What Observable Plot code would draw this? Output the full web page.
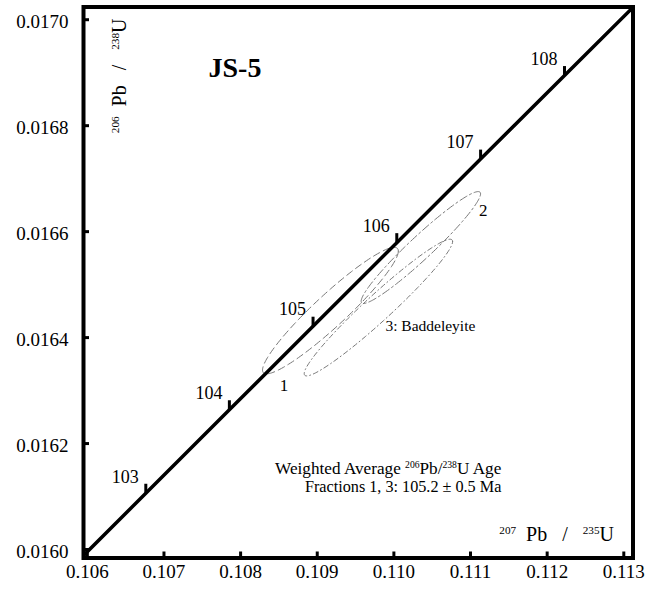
<!DOCTYPE html>
<html>
<head>
<meta charset="utf-8">
<script src="https://cdn.jsdelivr.net/npm/d3@7"></script>
<script src="https://cdn.jsdelivr.net/npm/@observablehq/plot@0.6"></script>
<style>
  html, body { margin: 0; padding: 0; background: #fff; }
</style>
</head>
<body>
<div id="chart"></div>
<script>
// ---- Axis ticks and extents (207Pb/235U on x, 206Pb/238U on y) ----
const xTicks = [0.106, 0.107, 0.108, 0.109, 0.110, 0.111, 0.112, 0.113];
const yTicks = [0.0160, 0.0162, 0.0164, 0.0166, 0.0168, 0.0170];
const xDomain = [0.10595, 0.11312];
const yDomain = [0.015984, 0.017024];

// ---- Concordia curve, points at whole-Ma ages ----
const concordiaAge = [102, 103, 104, 105, 106, 107, 108, 109];
const concordiaX = [0.1056735, 0.1067630, 0.1078535, 0.1089452, 0.1100378, 0.1111315, 0.1122264, 0.1133223];
const concordiaY = [0.0159486, 0.0161062, 0.0162638, 0.0164215, 0.0165792, 0.0167369, 0.0168946, 0.0170524];
const labeledAges = [103, 104, 105, 106, 107, 108];

// ---- Error ellipses of the fractions (x, 2s, y, 2s, rho) ----
const fractionId = ["1", "2", "3"];
const fractionX = [0.109172, 0.110352, 0.109798];
const fractionSX = [0.000886, 0.000779, 0.000968];
const fractionY = [0.016451, 0.016570, 0.0164567];
const fractionSY = [0.0001194, 0.0001056, 0.0001290];
const fractionRho = [0.940, 0.960, 0.966];

// ---- Text annotations (data coordinates) ----
const annText = ["JS-5", "1", "2", "3: Baddeleyite",
  "Weighted Average ^206Pb/^238U Age", "Fractions 1, 3: 105.2 \u00b1 0.5 Ma"];
const annX = [0.107926, 0.108565, 0.111167, 0.109889, 0.111402, 0.111402];
const annY = [0.016909, 0.016309, 0.016640, 0.016422, 0.0161535, 0.0161177];

const xTitle = "^207\u00a0\u00a0Pb\u00a0\u00a0\u00a0/\u00a0\u00a0\u00a0^235U";
const yTitle = "^206\u00a0\u00a0Pb\u00a0\u00a0\u00a0/\u00a0\u00a0\u00a0^238U";

// ---- Build tables for the marks ----
const concordia = concordiaAge.map((a, i) => ({age: a, x: concordiaX[i], y: concordiaY[i]}));
const ageTicks = concordia.filter(d => labeledAges.includes(d.age));
const ellipses = fractionId.map((id, i) => {
  const pts = [];
  const r = fractionRho[i], s = Math.sqrt(1 - r * r);
  for (let k = 0; k <= 180; k++) {
    const t = (k / 180) * 2 * Math.PI;
    pts.push({
      id,
      x: fractionX[i] + fractionSX[i] * Math.cos(t),
      y: fractionY[i] + fractionSY[i] * (r * Math.cos(t) + s * Math.sin(t))
    });
  }
  return pts;
});
const ann = annText.map((t, i) => ({text: t, x: annX[i], y: annY[i]}));

const serif = "Liberation Serif, Times New Roman, serif";
const tickLenX = (yDomain[1] - yDomain[0]) * 6 / 551;
const tickLenY = (xDomain[1] - xDomain[0]) * 6 / 549.5;
const ageTickLen = (yDomain[1] - yDomain[0]) * 9 / 551;
const ellipseDash = ["7,4", "8,3,2,3", "5,3,1,3"];

const svg = Plot.plot({
  width: 655,
  height: 592,
  marginLeft: 83,
  marginRight: 22.5,
  marginTop: 6.5,
  marginBottom: 34.5,
  style: {fontFamily: serif, background: "#fff"},
  x: {domain: xDomain, axis: null},
  y: {domain: yDomain, axis: null},
  marks: [
    // error ellipses
    ...ellipses.map((pts, i) => Plot.line(pts, {
      x: "x", y: "y", stroke: "#777", strokeWidth: 1,
      strokeDasharray: ellipseDash[i], clip: true
    })),
    // concordia
    Plot.line(concordia, {x: "x", y: "y", stroke: "#000", strokeWidth: 3.5, clip: true}),
    // age ticks on concordia
    Plot.ruleX(ageTicks, {x: "x", y1: "y", y2: d => d.y + ageTickLen, stroke: "#000", strokeWidth: 3}),
    Plot.text(ageTicks, {
      x: "x", y: "y", text: d => String(d.age), textAnchor: "end",
      dx: -7, dy: -16.5, fontSize: 18, fontFamily: serif, fill: "#000"
    }),
    // inward axis ticks
    Plot.ruleX(xTicks, {x: d => d, y1: yDomain[0], y2: yDomain[0] + tickLenX, stroke: "#000", strokeWidth: 3}),
    Plot.ruleY(yTicks, {y: d => d, x1: xDomain[0], x2: xDomain[0] + tickLenY, stroke: "#000", strokeWidth: 3}),
    // tick labels
    Plot.text(xTicks, {
      x: d => d, frameAnchor: "bottom", dy: 20, text: d => d.toFixed(3),
      fontSize: 19, fontFamily: serif, fill: "#000"
    }),
    Plot.text(yTicks, {
      y: d => d, frameAnchor: "left", textAnchor: "end", dx: -15, dy: 2,
      text: d => d.toFixed(4), fontSize: 19, fontFamily: serif, fill: "#000"
    }),
    // axis titles
    Plot.text([xTitle], {
      text: d => d, frameAnchor: "bottom-right", textAnchor: "end",
      dx: -19, dy: -17, fontSize: 20, fontFamily: serif, fill: "#000"
    }),
    Plot.text([yTitle], {
      text: d => d, frameAnchor: "top-left", textAnchor: "end", rotate: -90,
      dx: 28.6, dy: 11.5, fontSize: 20, fontFamily: serif, fill: "#000"
    }),
    // annotations
    Plot.text(ann.slice(0, 1), {x: "x", y: "y", text: "text", fontSize: 28, fontWeight: "bold", fontFamily: serif, fill: "#000"}),
    Plot.text(ann.slice(1, 3), {x: "x", y: "y", text: "text", fontSize: 17, fontFamily: serif, fill: "#000"}),
    Plot.text(ann.slice(3, 4), {x: "x", y: "y", text: "text", textAnchor: "start", fontSize: 15.5, fontFamily: serif, fill: "#000"}),
    Plot.text(ann.slice(4, 5), {x: "x", y: "y", text: "text", textAnchor: "end", fontSize: 17.2, fontFamily: serif, fill: "#000"}),
    Plot.text(ann.slice(5, 6), {x: "x", y: "y", text: "text", textAnchor: "end", fontSize: 16.2, fontFamily: serif, fill: "#000"}),
    // frame
    Plot.frame({stroke: "#000", strokeWidth: 4})
  ]
});

document.getElementById("chart").appendChild(svg);

// turn ^digits into superscripts
const NS = "http://www.w3.org/2000/svg";
svg.querySelectorAll("text").forEach(t => {
  const s = t.textContent;
  if (!s.includes("^")) return;
  const fs = parseFloat(getComputedStyle(t).fontSize) || 16;
  t.textContent = "";
  s.split(/(\^\d+)/).forEach(p => {
    if (!p) return;
    const ts = document.createElementNS(NS, "tspan");
    if (p[0] === "^") {
      ts.textContent = p.slice(1);
      ts.setAttribute("font-size", (fs * 0.56).toFixed(2));
      ts.setAttribute("baseline-shift", (fs * 0.36).toFixed(2));
    } else {
      ts.textContent = p;
    }
    t.appendChild(ts);
  });
});
</script>
</body>
</html>
